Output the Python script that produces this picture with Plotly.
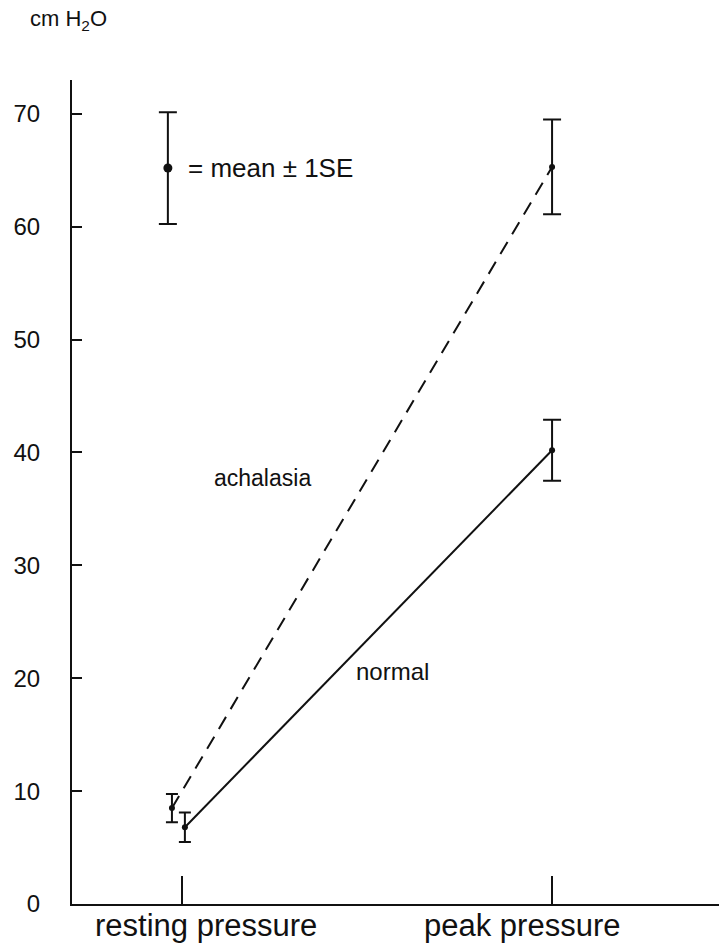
import plotly.graph_objects as go

# ---- data ----
categories = ["resting pressure", "peak pressure"]
cat_pos = [1, 2]
achalasia_mean = [8.5, 65.3]
achalasia_se = [1.25, 4.2]
normal_mean = [6.8, 40.2]
normal_se = [1.3, 2.7]
key_mean = [65.2]
key_se = [4.95]
y_ticks = [0, 10, 20, 30, 40, 50, 60, 70]

# small horizontal offsets of the resting-pressure points (style)
ach_off = [-0.027, 0.0]
nor_off = [0.008, 0.0]
ach_x = [p + o for p, o in zip(cat_pos, ach_off)]
nor_x = [p + o for p, o in zip(cat_pos, nor_off)]

FONT = "Liberation Sans"
BLACK = "#111111"

fig = go.Figure()

# connecting lines
fig.add_trace(go.Scatter(x=ach_x, y=achalasia_mean, mode="lines",
                         line=dict(color=BLACK, width=2, dash="14px,9px"),
                         showlegend=False, hoverinfo="skip"))
fig.add_trace(go.Scatter(x=nor_x, y=normal_mean, mode="lines",
                         line=dict(color=BLACK, width=2),
                         showlegend=False, hoverinfo="skip"))

cap_w = [6, 9]
for i in range(2):
    fig.add_trace(go.Scatter(
        x=[ach_x[i]], y=[achalasia_mean[i]], mode="markers",
        marker=dict(color=BLACK, size=6),
        error_y=dict(type="data", array=[achalasia_se[i]], color=BLACK,
                     thickness=2, width=cap_w[i]),
        showlegend=False))
    fig.add_trace(go.Scatter(
        x=[nor_x[i]], y=[normal_mean[i]], mode="markers",
        marker=dict(color=BLACK, size=6),
        error_y=dict(type="data", array=[normal_se[i]], color=BLACK,
                     thickness=2, width=cap_w[i]),
        showlegend=False))

# key: mean +/- 1SE
key_x = [cat_pos[0] - 0.038]
fig.add_trace(go.Scatter(
    x=key_x, y=key_mean, mode="markers",
    marker=dict(color=BLACK, size=9),
    error_y=dict(type="data", array=key_se, color=BLACK, thickness=2, width=9),
    showlegend=False))

annotations = [
    dict(x=key_x[0] + 0.05, y=key_mean[0], xref="x", yref="y",
         text="= mean ± 1SE", showarrow=False, xanchor="left", yanchor="middle",
         font=dict(family=FONT, size=26, color=BLACK)),
    dict(x=1.219, y=37.7, xref="x", yref="y", text="achalasia", showarrow=False,
         font=dict(family=FONT, size=23, color=BLACK)),
    dict(x=1.568, y=20.6, xref="x", yref="y", text="normal", showarrow=False,
         font=dict(family=FONT, size=24, color=BLACK)),
    dict(x=-0.068, y=1.073, xref="paper", yref="paper", text="cm H<sub>2</sub>O",
         showarrow=False, xanchor="left", yanchor="middle",
         font=dict(family=FONT, size=22, color=BLACK)),
]
label_shift = [24, -30]
for p, c, s in zip(cat_pos, categories, label_shift):
    annotations.append(dict(x=p, y=0, xref="x", yref="paper", text=c,
                            showarrow=False, xanchor="center", yanchor="top",
                            xshift=s, yshift=-2,
                            font=dict(family=FONT, size=31, color=BLACK)))

fig.update_layout(
    width=719, height=945,
    margin=dict(l=72, r=0, t=80, b=41),
    paper_bgcolor="white", plot_bgcolor="white",
    annotations=annotations,
    xaxis=dict(range=[0.703, 2.451], tickvals=cat_pos, showticklabels=False,
               ticks="inside", ticklen=28, tickwidth=2, tickcolor=BLACK,
               showline=True, linewidth=2, linecolor=BLACK,
               showgrid=False, zeroline=False),
    yaxis=dict(range=[0, 73.0], tickvals=y_ticks,
               ticks="inside", ticklen=10, tickwidth=2, tickcolor=BLACK,
               showline=True, linewidth=2, linecolor=BLACK,
               showgrid=False, zeroline=False, ticklabelstandoff=25,
               tickfont=dict(family=FONT, size=24, color=BLACK)),
)

fig.write_html("out.html")
